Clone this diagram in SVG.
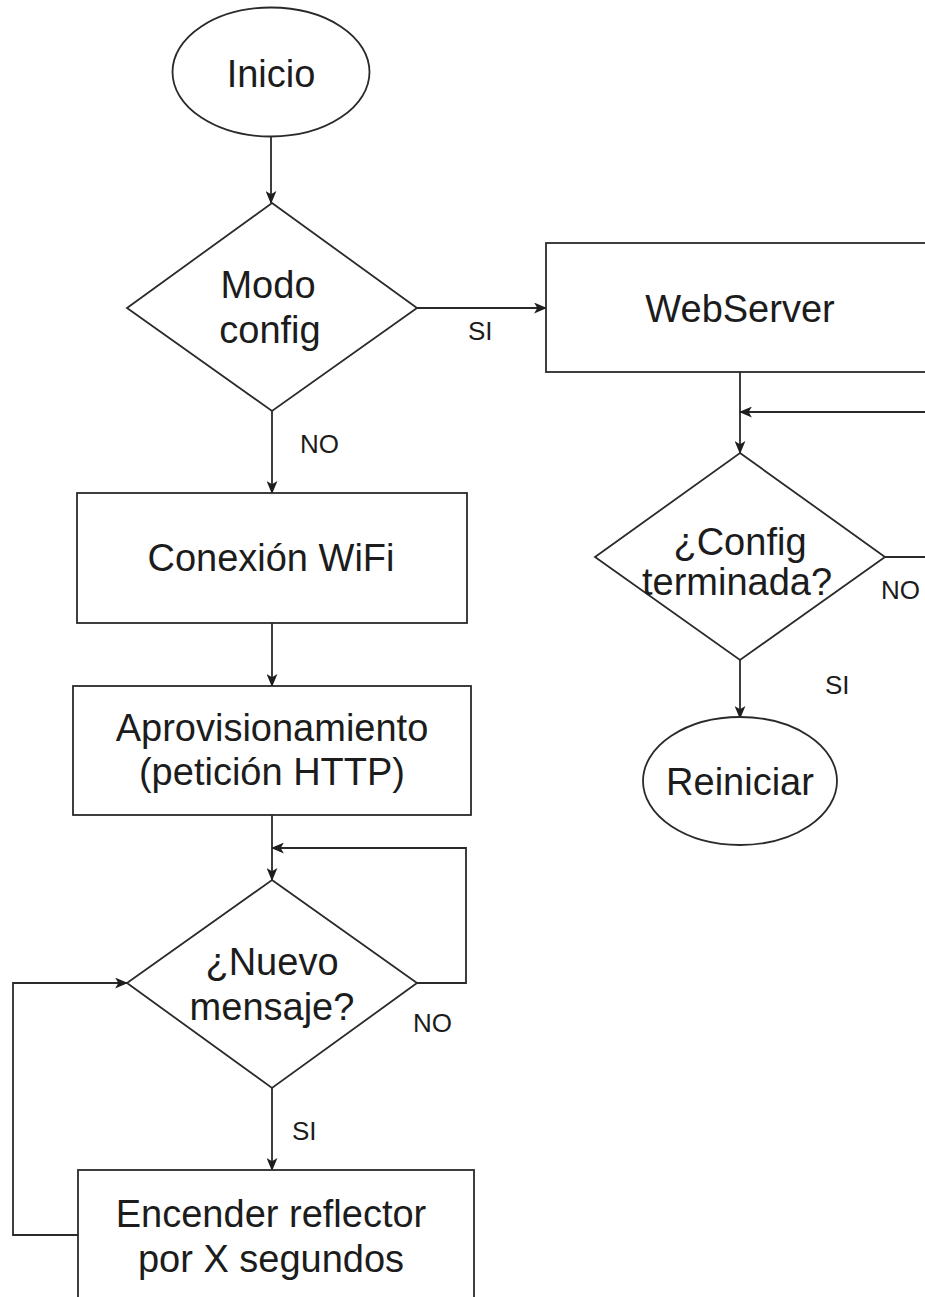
<svg xmlns="http://www.w3.org/2000/svg" width="925" height="1297" viewBox="0 0 925 1297">
<defs>
<marker id="arr" viewBox="0 0 12 10" refX="11" refY="5" markerWidth="13" markerHeight="11" markerUnits="userSpaceOnUse" orient="auto">
<path d="M0,0 L12,5 L0,10 L3,5 Z" fill="#1e1e1e"/>
</marker>
<style>
.shape{fill:#ffffff;stroke:#2a2a2a;stroke-width:1.8}
.edge{fill:none;stroke:#2a2a2a;stroke-width:1.8}
.t{font-family:"Liberation Sans",Arial,sans-serif;font-size:38px;fill:#1c1c1c;text-anchor:middle}
.l{font-family:"Liberation Sans",Arial,sans-serif;font-size:26px;fill:#1c1c1c}
</style>
</defs>
<rect width="925" height="1297" fill="#ffffff"/>
<g id="connectors">
<line class="edge" x1="271" y1="137" x2="271" y2="203" marker-end="url(#arr)"/>
<line class="edge" x1="417" y1="308" x2="546" y2="308" marker-end="url(#arr)"/>
<line class="edge" x1="272" y1="411" x2="272" y2="493" marker-end="url(#arr)"/>
<line class="edge" x1="272" y1="623" x2="272" y2="686" marker-end="url(#arr)"/>
<line class="edge" x1="272" y1="815" x2="272" y2="880" marker-end="url(#arr)"/>
<polyline class="edge" points="417,983 466,983 466,848 272,848" marker-end="url(#arr)"/>
<line class="edge" x1="272" y1="1088" x2="272" y2="1170" marker-end="url(#arr)"/>
<polyline class="edge" points="78,1235 13,1235 13,983 127,983" marker-end="url(#arr)"/>
<line class="edge" x1="740" y1="372" x2="740" y2="453" marker-end="url(#arr)"/>
<polyline class="edge" points="885,557 930,557 930,412 740,412" marker-end="url(#arr)"/>
<line class="edge" x1="740" y1="660" x2="740" y2="718" marker-end="url(#arr)"/>
<text class="l" x="468" y="340">SI</text>
<text class="l" x="300" y="453">NO</text>
<text class="l" x="881" y="599">NO</text>
<text class="l" x="825" y="694">SI</text>
<text class="l" x="413" y="1032">NO</text>
<text class="l" x="292" y="1140">SI</text>
</g>
<g id="inicio">
<ellipse class="shape" cx="271" cy="72" rx="98.5" ry="64.5"/>
<text class="t" x="271" y="87">Inicio</text>
</g>
<g id="modo-config">
<polygon class="shape" points="272,203 417,308 272,411 127,308"/>
<text class="t" x="268" y="298">Modo</text>
<text class="t" x="270" y="343">config</text>
</g>
<g id="webserver">
<rect class="shape" x="546" y="243" width="400" height="129"/>
<text class="t" x="740" y="322">WebServer</text>
</g>
<g id="config-terminada">
<polygon class="shape" points="740,453 885,557 740,660 595,557"/>
<text class="t" x="740" y="555">¿Config</text>
<text class="t" x="737" y="595">terminada?</text>
</g>
<g id="reiniciar">
<ellipse class="shape" cx="740" cy="781" rx="97" ry="64"/>
<text class="t" x="740" y="795">Reiniciar</text>
</g>
<g id="conexion-wifi">
<rect class="shape" x="77" y="493" width="390" height="130"/>
<text class="t" x="271" y="571">Conexión WiFi</text>
</g>
<g id="aprovisionamiento">
<rect class="shape" x="73" y="686" width="398" height="129"/>
<text class="t" x="272" y="741">Aprovisionamiento</text>
<text class="t" x="272" y="785">(petición HTTP)</text>
</g>
<g id="nuevo-mensaje">
<polygon class="shape" points="272,880 417,983 272,1088 127,983"/>
<text class="t" x="272" y="975">¿Nuevo</text>
<text class="t" x="272" y="1020">mensaje?</text>
</g>
<g id="encender">
<rect class="shape" x="78" y="1170" width="396" height="140"/>
<text class="t" x="271" y="1227">Encender reflector</text>
<text class="t" x="271" y="1272">por X segundos</text>
</g>
</svg>
